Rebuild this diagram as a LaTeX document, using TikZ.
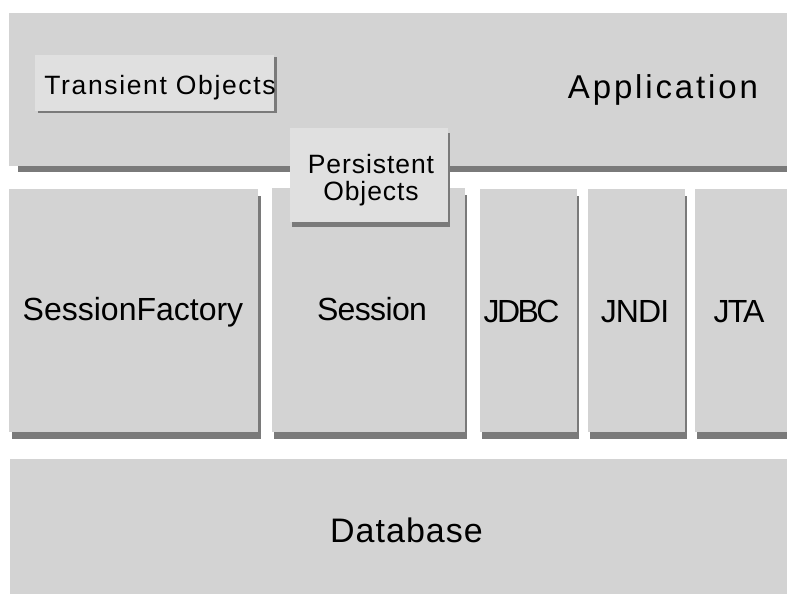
\documentclass[tikz,border=0pt]{standalone}
\usepackage{fontspec}
\setmainfont{Liberation Sans}
\usetikzlibrary{shadows}
\definecolor{boxgray}{RGB}{211,211,211}
\definecolor{innergray}{RGB}{224,224,224}
\definecolor{shadowgray}{RGB}{122,122,122}
\newcommand{\lsfont}[2]{\fontsize{#1}{#1}\selectfont\addfontfeature{LetterSpace=#2}}
\begin{document}
\begin{tikzpicture}[x=1pt,y=-1pt,
  layerbox/.style={fill=boxgray, draw=none, anchor=north west, inner sep=0pt, outer sep=0pt},
  objbox/.style={fill=innergray, draw=none, anchor=north west, inner sep=0pt, outer sep=0pt},
  shad/.style 2 args={general shadow={fill=shadowgray, shadow xshift=#1pt, shadow yshift=-#2pt}},
  lbl/.style={inner sep=0pt, outer sep=0pt, text=black}
]
\useasboundingbox (0,0) rectangle (787,594);
\clip (0,0) rectangle (787,594);
% application layer
\node[layerbox, shad={9}{6}, minimum width=778pt, minimum height=153pt] (app) at (9,13) {};
\node[objbox, shad={3}{2}, minimum width=239pt, minimum height=56pt] (trans) at (35,55) {};
% middle row
\node[layerbox, shad={3}{7}, minimum width=249pt, minimum height=243pt] (sf) at (9,189) {};
\node[layerbox, shad={2}{7}, minimum width=193pt, minimum height=244pt] (sess) at (272,188) {};
\node[layerbox, shad={1.5}{7}, minimum width=97pt, minimum height=243pt] (jdbc) at (480,189) {};
\node[layerbox, shad={1.5}{7}, minimum width=97pt, minimum height=243pt] (jndi) at (588,189) {};
\node[layerbox, shad={1.5}{7}, minimum width=92pt, minimum height=243pt] (jta) at (695,189) {};
% persistent objects
\node[objbox, shad={2}{5}, minimum width=158pt, minimum height=94pt] (pers) at (290,128) {};
% database
\node[layerbox, minimum width=777pt, minimum height=135pt] (db) at (10,459) {};
% labels
\node[lbl, anchor=base, font=\lsfont{33}{8.7}] (applbl) at (663,99) {Application};
\node[lbl, anchor=base, font=\lsfont{26.5}{6.2}] (translbl) at (160,94) {Transient Objects};
\node[lbl, anchor=center, align=center, font=\fontsize{26.5}{27}\selectfont\addfontfeature{LetterSpace=3.5}] (perslbl) at (371,180) {Persistent\\Objects};
\node[lbl, anchor=base, font=\lsfont{32}{0}] (sflbl) at (133,320) {SessionFactory};
\node[lbl, anchor=base, font=\lsfont{32}{-2}] (sesslbl) at (372,320) {Session};
\node[lbl, anchor=base, font=\lsfont{32}{-8}] (jdbclbl) at (521.5,322) {JDBC};
\node[lbl, anchor=base, font=\lsfont{32}{-3}] (jndilbl) at (635,322) {JNDI};
\node[lbl, anchor=base, font=\lsfont{32}{-6}] (jtalbl) at (739,322) {JTA};
\node[lbl, anchor=base, font=\lsfont{34}{3}] (dblbl) at (406.5,542) {Database};
\end{tikzpicture}
\end{document}
